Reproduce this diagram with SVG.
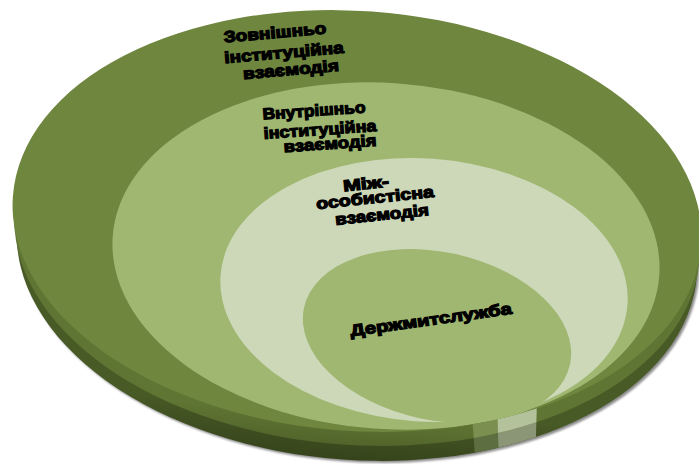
<svg xmlns="http://www.w3.org/2000/svg" width="699" height="464" viewBox="0 0 699 464">
<defs>
<style>
.lbl{font-family:"Liberation Sans",Arial,sans-serif;font-weight:bold;font-size:16px;fill:#000;stroke:#000;stroke-width:1.2;text-anchor:middle}
.top{fill:#6f863f}
.mid{fill:#9fb771}
.pale{fill:#cdd8b8}
</style>
<ellipse id="disk" cx="357" cy="221" rx="345" ry="210" transform="rotate(4.1 357 221)"/>
<linearGradient id="rimG" gradientUnits="userSpaceOnUse" x1="0" y1="380" x2="0" y2="462">
<stop offset="0" stop-color="#485a26"/><stop offset="1" stop-color="#2b3615"/>
</linearGradient>
<linearGradient id="bevG" gradientUnits="userSpaceOnUse" x1="0" y1="400" x2="0" y2="446">
<stop offset="0" stop-color="#5f7533"/><stop offset="1" stop-color="#4b5d27"/>
</linearGradient>
<filter id="blur" x="-5%" y="-5%" width="110%" height="110%"><feGaussianBlur stdDeviation="1.2"/></filter>
<clipPath id="cRim"><use href="#disk" transform="translate(357 250) scale(0.988 1) translate(-357 -221)"/></clipPath>
<clipPath id="cBev"><use href="#disk" transform="translate(357 235) scale(0.995 1) translate(-357 -221)"/></clipPath>
<clipPath id="cTop"><use href="#disk"/></clipPath>
</defs>

<g id="disk-base">
<use href="#disk" transform="translate(359 252) scale(0.988 1) translate(-357 -221)" fill="#000" opacity="0.45" filter="url(#blur)"/>
<use href="#disk" transform="translate(357 250) scale(0.988 1) translate(-357 -221)" fill="url(#rimG)"/>
<g clip-path="url(#cRim)">
<polygon points="471,400 497,400 499,470 476,470" fill="#5d6e41"/>
<polygon points="497,400 537,400 535,470 499,470" fill="#8b9676"/>
</g>
<use href="#disk" transform="translate(357 235) scale(0.995 1) translate(-357 -221)" fill="url(#bevG)"/>
<g clip-path="url(#cBev)">
<polygon points="471,400 497,400 499,470 476,470" fill="#7a8f50"/>
<polygon points="497,400 537,400 535,470 499,470" fill="#b4c29b"/>
</g>
</g>

<g id="outer-ring">
<use href="#disk" class="top"/>
</g>

<g clip-path="url(#cTop)">
<g id="inner-ring">
<ellipse class="mid" cx="386" cy="256" rx="274" ry="173" transform="rotate(4.1 386 256)"/>
</g>
<g id="personal-ring">
<ellipse class="pale" cx="424" cy="290" rx="204" ry="131.5" transform="rotate(4.1 424 290)"/>
</g>
<g id="core">
<ellipse class="mid" cx="437" cy="336" rx="136" ry="84" transform="rotate(12 437 336)"/>
</g>
</g>

<g id="labels">
<g id="label-outer">
<text class="lbl" x="275" y="38" textLength="103" lengthAdjust="spacingAndGlyphs" transform="rotate(-5 275 33)">Зовнішньо</text>
<text class="lbl" x="284" y="58" textLength="120" lengthAdjust="spacingAndGlyphs" transform="rotate(-5 284 53)">інституційна</text>
<text class="lbl" x="291" y="75" textLength="96" lengthAdjust="spacingAndGlyphs" transform="rotate(-5 291 70)">взаємодія</text>
</g>
<g id="label-inner">
<text class="lbl" x="314" y="116" textLength="103" lengthAdjust="spacingAndGlyphs" transform="rotate(-4 314 111)">Внутрішньо</text>
<text class="lbl" x="320" y="135" textLength="113" lengthAdjust="spacingAndGlyphs" transform="rotate(-4 320 130)">інституційна</text>
<text class="lbl" x="330" y="149" textLength="93" lengthAdjust="spacingAndGlyphs" transform="rotate(-4 330 144)">взаємодія</text>
</g>
<g id="label-personal">
<text class="lbl" x="366" y="189" textLength="46" lengthAdjust="spacingAndGlyphs" transform="rotate(-6 366 184)">Між-</text>
<text class="lbl" x="375" y="203" textLength="118" lengthAdjust="spacingAndGlyphs" transform="rotate(-6 375 198)">особистісна</text>
<text class="lbl" x="382" y="220" textLength="94" lengthAdjust="spacingAndGlyphs" transform="rotate(-6 382 215)">взаємодія</text>
</g>
<g id="label-core">
<text class="lbl" x="431" y="325" textLength="163" lengthAdjust="spacingAndGlyphs" transform="rotate(-8 431 320)">Держмитслужба</text>
</g>
</g>
</svg>
